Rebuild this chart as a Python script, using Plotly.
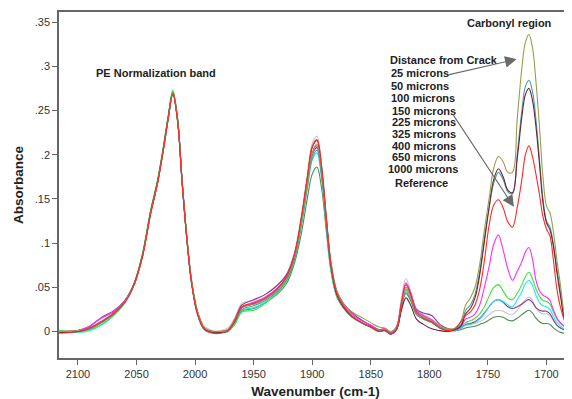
import plotly.graph_objects as go

# ── DATA ──────────────────────────────────────────────────────────────────────
# wavenumber grid (cm-1), shared by every spectrum
WAVENUMBER = [
    2116, 2100, 2090, 2080, 2070, 2060, 2052, 2045, 2038, 2032,
    2027, 2023, 2019, 2015, 2011, 2007, 2003, 1998, 1992, 1985,
    1978, 1972, 1966, 1960, 1950, 1940, 1930, 1922, 1915, 1909,
    1904, 1900, 1896, 1892, 1888, 1884, 1879, 1873, 1866, 1858,
    1850, 1843, 1838, 1833, 1828, 1824, 1820, 1816, 1811, 1805,
    1798, 1791, 1784,
    1778, 1773, 1769, 1765, 1761, 1757, 1753, 1749, 1745, 1741,
    1737, 1733, 1729, 1725, 1721, 1718, 1715, 1712, 1709, 1706,
    1703, 1700, 1697, 1694, 1691, 1688, 1685, 1682, 1678,
]

ABS_25 = [
    0.000, 0.001, 0.004, 0.011, 0.020, 0.034, 0.053, 0.085, 0.134, 0.169,
    0.207, 0.241, 0.270, 0.240, 0.169, 0.107, 0.058, 0.023, 0.004, 0.000,
    0.000, 0.002, 0.013, 0.027, 0.031, 0.037, 0.047, 0.060, 0.085, 0.126,
    0.169, 0.202, 0.212, 0.182, 0.128, 0.078, 0.046, 0.031, 0.022, 0.016,
    0.010, 0.005, 0.004, 0.000, 0.005, 0.030, 0.048, 0.039, 0.022, 0.016,
    0.012, 0.006, 0.003,
    0.004, 0.012, 0.030, 0.038, 0.050, 0.076, 0.115, 0.150, 0.185, 0.198,
    0.192, 0.180, 0.180, 0.240, 0.298, 0.327, 0.336, 0.322, 0.283, 0.232,
    0.175, 0.142, 0.134, 0.112, 0.080, 0.052, 0.022, 0.008, 0.002,
]
ABS_50 = [
    0.000, 0.000, 0.003, 0.010, 0.019, 0.033, 0.053, 0.085, 0.134, 0.169,
    0.207, 0.241, 0.269, 0.239, 0.167, 0.104, 0.055, 0.020, 0.002, -0.001,
    -0.001, 0.001, 0.011, 0.025, 0.029, 0.035, 0.045, 0.058, 0.082, 0.123,
    0.165, 0.196, 0.205, 0.176, 0.122, 0.072, 0.041, 0.027, 0.017, 0.010,
    0.005, 0.001, 0.002, -0.002, 0.003, 0.027, 0.045, 0.036, 0.020, 0.014,
    0.010, 0.004, 0.002,
    0.003, 0.008, 0.024, 0.030, 0.042, 0.068, 0.105, 0.140, 0.168, 0.180,
    0.172, 0.158, 0.156, 0.200, 0.250, 0.277, 0.284, 0.272, 0.240, 0.195,
    0.150, 0.125, 0.118, 0.098, 0.070, 0.044, 0.018, 0.006, 0.001,
]
ABS_100 = [
    -0.001, 0.000, 0.004, 0.011, 0.020, 0.034, 0.054, 0.086, 0.135, 0.170,
    0.208, 0.242, 0.270, 0.240, 0.168, 0.105, 0.056, 0.021, 0.003, -0.001,
    -0.001, 0.001, 0.012, 0.027, 0.031, 0.037, 0.047, 0.061, 0.087, 0.130,
    0.175, 0.208, 0.216, 0.185, 0.128, 0.075, 0.042, 0.027, 0.017, 0.010,
    0.005, 0.000, 0.001, -0.003, 0.002, 0.023, 0.038, 0.030, 0.014, 0.008,
    0.003, 0.001, 0.000,
    0.002, 0.006, 0.020, 0.026, 0.038, 0.064, 0.102, 0.140, 0.172, 0.184,
    0.175, 0.160, 0.157, 0.195, 0.243, 0.268, 0.275, 0.262, 0.232, 0.190,
    0.146, 0.123, 0.115, 0.096, 0.066, 0.040, 0.015, 0.003, -0.002,
]
ABS_150 = [
    -0.002, 0.000, 0.004, 0.011, 0.020, 0.033, 0.053, 0.084, 0.133, 0.168,
    0.206, 0.240, 0.268, 0.238, 0.167, 0.104, 0.055, 0.020, 0.002, -0.002,
    -0.002, 0.001, 0.012, 0.028, 0.032, 0.038, 0.048, 0.062, 0.088, 0.131,
    0.176, 0.209, 0.217, 0.186, 0.129, 0.076, 0.043, 0.028, 0.017, 0.010,
    0.005, 0.000, 0.001, -0.003, 0.003, 0.031, 0.053, 0.042, 0.022, 0.015,
    0.011, 0.004, 0.001,
    0.003, 0.011, 0.018, 0.022, 0.030, 0.048, 0.080, 0.120, 0.143, 0.149,
    0.140, 0.124, 0.118, 0.140, 0.172, 0.200, 0.210, 0.198, 0.178, 0.155,
    0.130, 0.116, 0.108, 0.080, 0.047, 0.027, 0.014, 0.006, 0.001,
]
ABS_225 = [
    0.000, 0.001, 0.006, 0.015, 0.022, 0.035, 0.054, 0.085, 0.134, 0.169,
    0.207, 0.241, 0.269, 0.239, 0.167, 0.104, 0.055, 0.021, 0.003, -0.001,
    -0.001, 0.002, 0.013, 0.028, 0.033, 0.039, 0.049, 0.062, 0.087, 0.128,
    0.170, 0.202, 0.210, 0.180, 0.125, 0.074, 0.043, 0.029, 0.019, 0.012,
    0.007, 0.002, 0.003, -0.001, 0.005, 0.032, 0.055, 0.044, 0.024, 0.018,
    0.013, 0.006, 0.003,
    0.002, 0.006, 0.014, 0.016, 0.020, 0.030, 0.050, 0.073, 0.099, 0.109,
    0.092, 0.071, 0.058, 0.068, 0.079, 0.090, 0.095, 0.082, 0.058, 0.046,
    0.041, 0.039, 0.035, 0.024, 0.015, 0.010, 0.006, 0.004, 0.002,
]
ABS_325 = [
    0.001, 0.000, 0.002, 0.008, 0.018, 0.033, 0.055, 0.088, 0.137, 0.172,
    0.210, 0.244, 0.273, 0.242, 0.168, 0.104, 0.054, 0.019, 0.002, -0.001,
    -0.001, 0.000, 0.008, 0.022, 0.024, 0.032, 0.043, 0.057, 0.083, 0.125,
    0.168, 0.201, 0.210, 0.180, 0.124, 0.072, 0.040, 0.026, 0.016, 0.010,
    0.005, 0.001, 0.002, -0.002, 0.004, 0.028, 0.047, 0.040, 0.023, 0.017,
    0.013, 0.006, 0.002,
    0.002, 0.006, 0.010, 0.012, 0.015, 0.020, 0.028, 0.040, 0.050, 0.053,
    0.046, 0.038, 0.036, 0.043, 0.053, 0.062, 0.067, 0.060, 0.048, 0.040,
    0.035, 0.034, 0.031, 0.022, 0.014, 0.009, 0.006, 0.003, 0.001,
]
ABS_400 = [
    0.000, -0.001, 0.001, 0.007, 0.017, 0.032, 0.053, 0.086, 0.136, 0.171,
    0.209, 0.243, 0.271, 0.241, 0.168, 0.105, 0.055, 0.020, 0.002, -0.001,
    -0.001, 0.000, 0.009, 0.024, 0.027, 0.033, 0.044, 0.057, 0.082, 0.122,
    0.163, 0.194, 0.202, 0.173, 0.120, 0.070, 0.040, 0.027, 0.017, 0.010,
    0.005, 0.001, 0.002, -0.002, 0.004, 0.029, 0.050, 0.041, 0.023, 0.017,
    0.012, 0.005, 0.002,
    0.001, 0.004, 0.007, 0.008, 0.010, 0.014, 0.020, 0.028, 0.034, 0.036,
    0.034, 0.030, 0.028, 0.036, 0.045, 0.054, 0.058, 0.052, 0.041, 0.033,
    0.029, 0.028, 0.025, 0.017, 0.010, 0.006, 0.003, 0.001, 0.000,
]
ABS_650 = [
    0.000, 0.001, 0.006, 0.016, 0.023, 0.035, 0.054, 0.085, 0.133, 0.168,
    0.206, 0.240, 0.269, 0.239, 0.168, 0.105, 0.056, 0.022, 0.004, 0.000,
    0.000, 0.002, 0.014, 0.030, 0.036, 0.042, 0.052, 0.064, 0.088, 0.127,
    0.168, 0.200, 0.208, 0.179, 0.126, 0.076, 0.045, 0.031, 0.021, 0.013,
    0.007, 0.002, 0.003, -0.001, 0.005, 0.030, 0.050, 0.043, 0.025, 0.021,
    0.018, 0.008, 0.003,
    0.001, 0.004, 0.008, 0.009, 0.011, 0.015, 0.021, 0.028, 0.034, 0.036,
    0.033, 0.028, 0.026, 0.028, 0.031, 0.034, 0.036, 0.033, 0.027, 0.024,
    0.023, 0.023, 0.020, 0.013, 0.007, 0.004, 0.002, 0.001, 0.000,
]
ABS_1000 = [
    0.001, 0.001, 0.005, 0.012, 0.021, 0.035, 0.055, 0.087, 0.136, 0.171,
    0.209, 0.243, 0.272, 0.242, 0.171, 0.108, 0.059, 0.024, 0.006, 0.001,
    0.001, 0.004, 0.016, 0.032, 0.035, 0.042, 0.052, 0.065, 0.091, 0.134,
    0.180, 0.213, 0.221, 0.190, 0.132, 0.079, 0.046, 0.031, 0.020, 0.013,
    0.007, 0.002, 0.003, -0.001, 0.006, 0.036, 0.060, 0.046, 0.026, 0.019,
    0.014, 0.006, 0.003,
    0.002, 0.004, 0.007, 0.008, 0.009, 0.011, 0.014, 0.019, 0.023, 0.024,
    0.023, 0.020, 0.019, 0.024, 0.031, 0.036, 0.039, 0.035, 0.027, 0.022,
    0.020, 0.020, 0.018, 0.012, 0.007, 0.004, 0.002, 0.001, 0.000,
]
ABS_REF = [
    0.000, 0.000, 0.003, 0.010, 0.019, 0.033, 0.053, 0.085, 0.134, 0.169,
    0.207, 0.241, 0.270, 0.240, 0.168, 0.105, 0.056, 0.021, 0.003, -0.001,
    -0.001, 0.000, 0.009, 0.023, 0.026, 0.033, 0.042, 0.054, 0.078, 0.113,
    0.152, 0.178, 0.186, 0.162, 0.114, 0.068, 0.039, 0.026, 0.016, 0.010,
    0.005, 0.001, 0.002, -0.002, 0.003, 0.026, 0.043, 0.035, 0.019, 0.014,
    0.010, 0.004, 0.001,
    0.001, 0.002, 0.004, 0.005, 0.006, 0.008, 0.010, 0.013, 0.016, 0.017,
    0.016, 0.013, 0.012, 0.015, 0.019, 0.022, 0.024, 0.021, 0.015, 0.011,
    0.009, 0.009, 0.008, 0.004, 0.001, -0.001, -0.002, -0.002, -0.002,
]

LABELS = ["25 microns", "50 microns", "100 microns", "150 microns", "225 microns",
          "325 microns", "400 microns", "650 microns", "1000 microns", "Reference"]

X_TICKS = [2100, 2050, 2000, 1950, 1900, 1850, 1800, 1750, 1700]
Y_TICKS = [0, 0.05, 0.1, 0.15, 0.2, 0.25, 0.3, 0.35]
Y_TICK_TEXT = ["0", ".05", ".1", ".15", ".2", ".25", ".3", ".35"]

# ── STYLE ─────────────────────────────────────────────────────────────────────

SERIES = {
    "1000 microns": (ABS_1000, "#c6c6c6"),
    "Reference":    (ABS_REF,  "#4f8a4f"),
    "650 microns":  (ABS_650,  "#8a3c8a"),
    "400 microns":  (ABS_400,  "#22e6f6"),
    "325 microns":  (ABS_325,  "#3ee03e"),
    "225 microns":  (ABS_225,  "#ff2cff"),
    "50 microns":   (ABS_50,   "#4c9ea6"),
    "100 microns":  (ABS_100,  "#6e2434"),
    "25 microns":   (ABS_25,   "#9c9c4e"),
    "150 microns":  (ABS_150,  "#ff2a2a"),
}

FONT = "Liberation Sans, Arial, sans-serif"
PAGE_OFF = 8            # default body margin of the html page
W, H = 572 - PAGE_OFF, 399 - PAGE_OFF
ML, MR, MT, MB = 51, 0, 4, 41


def px(x, y):
    # page pixel position -> paper coordinates
    x, y = x - PAGE_OFF, y - PAGE_OFF
    return (x - ML) / (W - ML - MR), (H - MB - y) / (H - MT - MB)


fig = go.Figure()
for name, (vals, color) in SERIES.items():
    fig.add_trace(go.Scatter(
        x=WAVENUMBER, y=vals, mode="lines", name=name,
        line=dict(color=color, width=1.1, shape="spline", smoothing=1.0),
    ))

# text labels
def label(text, x, y, anchor="left", size=11):
    xp, yp = px(x, y)
    fig.add_annotation(x=xp, y=yp, xref="paper", yref="paper", text=f"<b>{text}</b>",
                       showarrow=False, xanchor=anchor, yanchor="middle",
                       font=dict(family=FONT, size=size, color="#222"))

label("Carbonyl region", 509, 23, "center")
label("PE Normalization band", 156, 73, "center")
label("Distance from Crack", 388, 60)
legend_y = [73, 86, 98, 111, 122, 134.5, 146, 157, 169, 183]
legend_x = [389, 389, 389, 390, 390, 390, 390, 390, 386, 393]
for t, lx, ly in zip(LABELS, legend_x, legend_y):
    label(t, lx, ly)

# arrows pointing at the spectra
for tip_x, tip_y, ax, ay in [(1725.5, 0.308, -70, 16), (1727.8, 0.141, -62, -94)]:
    fig.add_annotation(x=tip_x, y=tip_y, xref="x", yref="y", text="", showarrow=True,
                       ax=ax, ay=ay, arrowhead=2, arrowsize=2.1, arrowwidth=1.1,
                       arrowcolor="#6a6a6a", standoff=0)

axis_common = dict(
    showline=True, linecolor="#666", linewidth=1.5, ticks="outside", ticklen=5,
    tickcolor="#666", showgrid=False, zeroline=False,
    tickfont=dict(family=FONT, size=11, color="#333"),
)

fig.update_layout(
    width=W, height=H, autosize=False,
    margin=dict(l=ML, r=MR, t=MT, b=MB),
    paper_bgcolor="white", plot_bgcolor="white",
    showlegend=False,
    xaxis=dict(
        range=[2116.2, 1678.2], tickvals=X_TICKS, mirror=True,
        title=dict(text="<b>Wavenumber (cm-1)</b>", standoff=9,
                   font=dict(family=FONT, size=13.5, color="#222")),
        **axis_common,
    ),
    yaxis=dict(
        range=[-0.030, 0.3614], tickvals=Y_TICKS, ticktext=Y_TICK_TEXT,
        title=dict(text="<b>Absorbance</b>", standoff=8,
                   font=dict(family=FONT, size=13.5, color="#222")),
        **axis_common,
    ),
)

fig.write_html("out.html")
